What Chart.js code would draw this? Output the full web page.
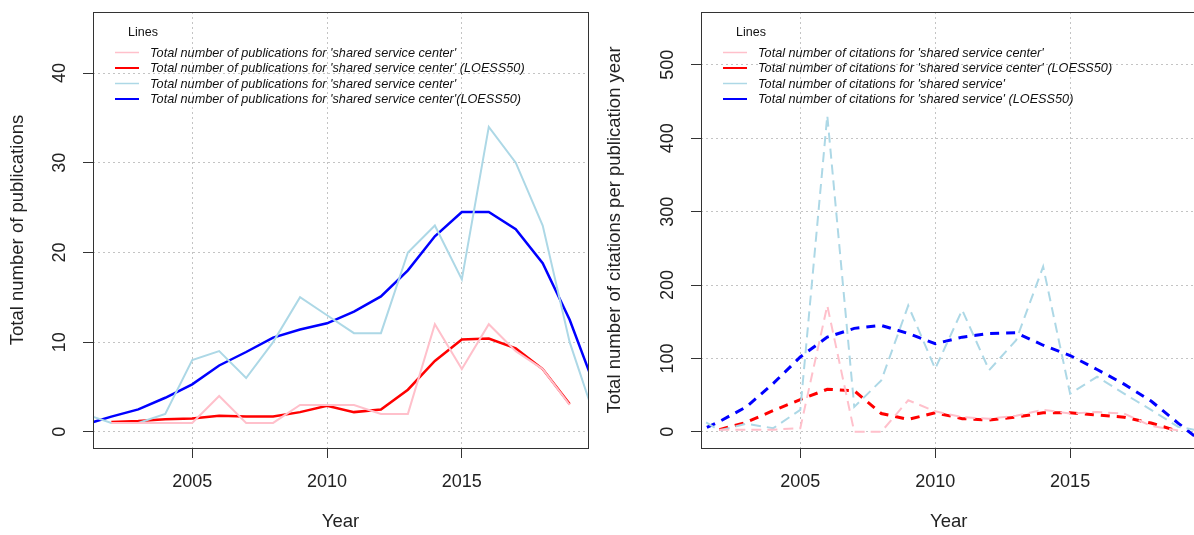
<!DOCTYPE html>
<html>
<head>
<meta charset="utf-8">
<script src="https://cdn.jsdelivr.net/npm/chart.js@4.4.0/dist/chart.umd.min.js"></script>
<style>
  html, body { margin: 0; padding: 0; background: #fff; overflow: hidden; }
  .panel { position: absolute; top: 0; height: 535px; }
  #leftBox { left: 0; width: 597px; }
  #rightBox { left: 597px; width: 610px; }
</style>
</head>
<body>
<div class="panel" id="leftBox"><canvas id="pubChart"></canvas></div>
<div class="panel" id="rightBox"><canvas id="citChart"></canvas></div>

<script>
// ---- data ----
var years = [2001, 2002, 2003, 2004, 2005, 2006, 2007, 2008, 2009, 2010,
             2011, 2012, 2013, 2014, 2015, 2016, 2017, 2018, 2019, 2020];

// left panel: publications
var pubSSC      = [null, 1, 1, 1, 1, 4, 1, 1, 3, 3, 3, 2, 2, 12, 7, 12, 9, 7, 3, null];
var pubSSCLoess = [null, 1.1, 1.2, 1.4, 1.5, 1.8, 1.7, 1.7, 2.2, 2.9, 2.2, 2.5, 4.7, 7.9, 10.3, 10.4, 9.3, 7.0, 3.1, null];
var pubSS       = [2, 1, 1, 2, 8, 9, 6, 10, 15, 13, 11, 11, 20, 23, 17, 34, 30, 23, 10, 1];
var pubSSLoess  = [0.8, 1.7, 2.5, 3.8, 5.3, 7.4, 8.9, 10.5, 11.4, 12.1, 13.4, 15.1, 18.0, 21.8, 24.5, 24.5, 22.6, 18.8, 12.5, 4.5];

// right panel: citations
var citSSC      = [null, 3, 3, 3, 5, 172, 0, 0, 43, 28, 20, 18, 22, 30, 25, 27, 25, 8, 2, null];
var citSSCLoess = [null, 3, 13, 29, 44, 58, 56, 25, 17, 26, 18, 16, 20, 26, 26, 23, 20, 12, 1, null];
var citSS       = [24, 2, 11, 5, 30, 431, 34, 70, 172, 86, 166, 84, 125, 225, 52, 75, 52, 30, 7, 0];
var citSSLoess  = [-3, 14, 34, 66, 102, 129, 141, 145, 134, 120, 129, 134, 135, 118, 104, 85, 65, 42, 12, -17];

var xTicks    = [2005, 2010, 2015];
var pubYTicks = [0, 10, 20, 30, 40];
var citYTicks = [0, 100, 200, 300, 400, 500];

var pubLabels = [
  "Total number of publications for 'shared service center'",
  "Total number of publications for 'shared service center' (LOESS50)",
  "Total number of publications for 'shared service center'",
  "Total number of publications for 'shared service center'(LOESS50)"
];
var citLabels = [
  "Total number of citations for 'shared service center'",
  "Total number of citations for 'shared service center' (LOESS50)",
  "Total number of citations for 'shared service'",
  "Total number of citations for 'shared service' (LOESS50)"
];

var colors = ['#ffc0cb', '#ff0000', '#add8e6', '#0000ff'];
var FONT = '"Liberation Sans", Arial, sans-serif';

function pts(vals) {
  var out = [];
  for (var i = 0; i < years.length; i++) {
    out.push({x: years[i], y: vals[i]});
  }
  return out;
}

// box, rotated y tick labels and the R-style legend
var rStyle = {
  id: 'rStyle',
  afterDraw: function(chart, args, opts) {
    var ctx = chart.ctx;
    var a = chart.chartArea;
    ctx.save();
    ctx.strokeStyle = '#333';
    ctx.lineWidth = 1;
    ctx.strokeRect(Math.round(a.left) + 0.5, Math.round(a.top) + 0.5,
                   Math.round(a.right - a.left), Math.round(a.bottom - a.top));

    // y tick labels, parallel to the axis
    var ys = chart.scales.y;
    ctx.font = '18px ' + FONT;
    ctx.fillStyle = '#222';
    ctx.textAlign = 'center';
    ctx.textBaseline = 'middle';
    ys.ticks.forEach(function(t) {
      var py = ys.getPixelForValue(t.value);
      ctx.save();
      ctx.translate(a.left - 33, py);
      ctx.rotate(-Math.PI / 2);
      ctx.fillText(String(t.value), 0, 0);
      ctx.restore();
    });

    // legend
    var lx = a.left;
    ctx.textAlign = 'left';
    ctx.font = '12.5px ' + FONT;
    ctx.fillStyle = '#111';
    ctx.fillText(opts.title, lx + 35, 33);
    ctx.font = 'italic 12.7px ' + FONT;
    for (var i = 0; i < opts.labels.length; i++) {
      var ry = 52.5 + i * 15.5;
      ctx.strokeStyle = opts.colors[i];
      ctx.lineWidth = opts.widths[i];
      ctx.beginPath();
      ctx.moveTo(lx + 22, ry);
      ctx.lineTo(lx + 46, ry);
      ctx.stroke();
      ctx.fillStyle = '#111';
      ctx.fillText(opts.labels[i], lx + 57, ry + 0.5);
    }
    ctx.restore();
  }
};

function makeOptions(cfg) {
  return {
    responsive: true,
    maintainAspectRatio: false,
    animation: false,
    layout: { padding: { left: 0, right: cfg.padRight, top: 12, bottom: 0 } },
    elements: { point: { radius: 0 }, line: { tension: 0 } },
    plugins: {
      legend: { display: false },
      tooltip: { enabled: false },
      rStyle: { title: 'Lines', labels: cfg.labels, colors: colors, widths: [1.5, 2, 1.5, 2] }
    },
    scales: {
      x: {
        type: 'linear',
        min: 2001.32,
        max: 2019.68,
        afterBuildTicks: function(s) { s.ticks = xTicks.map(function(v) { return {value: v}; }); },
        afterFit: function(s) { s.height = 87; },
        ticks: {
          padding: 13,
          color: '#222',
          font: { family: FONT, size: 18 },
          callback: function(v) { return String(v); }
        },
        grid: {
          color: '#c4c4c4',
          tickColor: '#333',
          tickLength: 10,
          tickBorderDash: []
        },
        border: { display: false, dash: [2, 3] },
        title: {
          display: true,
          text: 'Year',
          color: '#222',
          font: { family: FONT, size: 18.5 },
          padding: { top: 0, bottom: 2 }
        }
      },
      y: {
        min: cfg.yMin,
        max: cfg.yMax,
        afterBuildTicks: function(s) { s.ticks = cfg.yTicks.map(function(v) { return {value: v}; }); },
        afterFit: function(s) { s.width = cfg.yWidth; },
        ticks: { display: false },
        grid: {
          color: '#c4c4c4',
          tickColor: '#333',
          tickLength: 10,
          tickBorderDash: []
        },
        border: { display: false, dash: [2, 3] },
        title: {
          display: true,
          text: cfg.yTitle,
          color: '#222',
          font: { family: FONT, size: 18.5 },
          padding: { top: 7, bottom: 0 }
        }
      }
    }
  };
}

function ds(label, vals, color, width, dash) {
  return {
    label: label,
    data: pts(vals),
    borderColor: color,
    borderWidth: width,
    borderDash: dash || [],
    fill: false,
    clip: 0,
    spanGaps: false
  };
}

new Chart(document.getElementById('pubChart'), {
  type: 'line',
  data: {
    datasets: [
      ds(pubLabels[0], pubSSC, colors[0], 2),
      ds(pubLabels[2], pubSS, colors[2], 2),
      ds(pubLabels[1], pubSSCLoess, colors[1], 2.5),
      ds(pubLabels[3], pubSSLoess, colors[3], 2.5)
    ]
  },
  options: makeOptions({
    padRight: 9, yMin: -1.8, yMax: 46.8, yTicks: pubYTicks, yWidth: 93,
    yTitle: 'Total number of publications', labels: pubLabels
  }),
  plugins: [rStyle]
});

new Chart(document.getElementById('citChart'), {
  type: 'line',
  data: {
    datasets: [
      ds(citLabels[0], citSSC, colors[0], 2, [10, 6]),
      ds(citLabels[2], citSS, colors[2], 2, [10, 6]),
      ds(citLabels[1], citSSCLoess, colors[1], 3, [9, 7]),
      ds(citLabels[3], citSSLoess, colors[3], 3, [9, 7])
    ]
  },
  options: makeOptions({
    padRight: 10.6, yMin: -22, yMax: 572, yTicks: citYTicks, yWidth: 104,
    yTitle: 'Total number of citations per publication year', labels: citLabels
  }),
  plugins: [rStyle]
});
</script>
</body>
</html>
